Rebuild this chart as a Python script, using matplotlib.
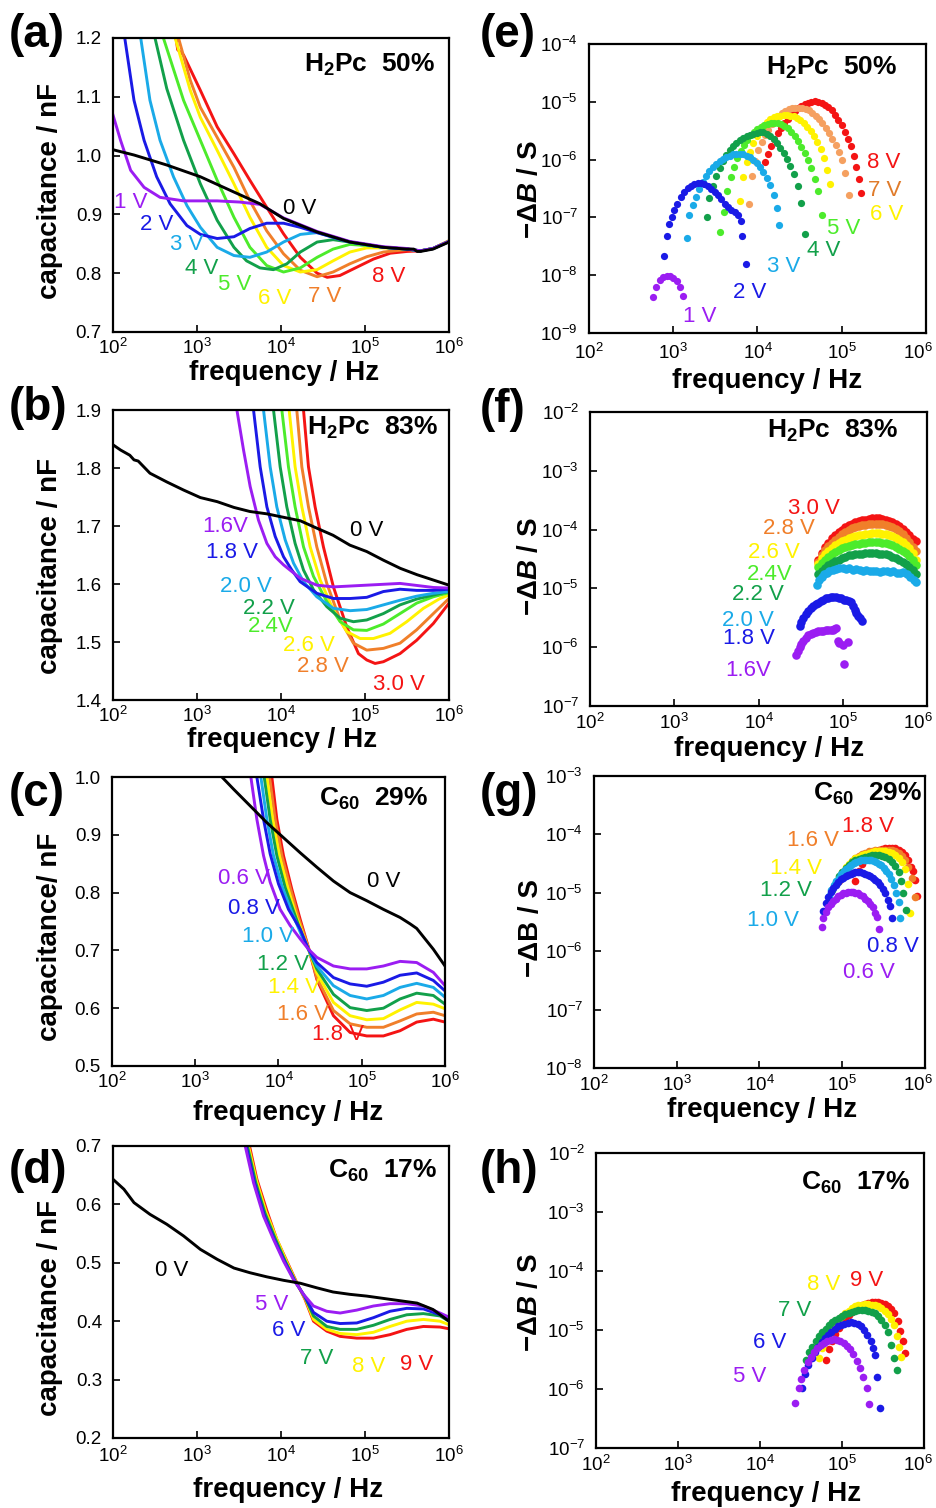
import numpy as np
import matplotlib
matplotlib.use("Agg")
import matplotlib.pyplot as plt
from matplotlib import ticker
from matplotlib.transforms import ScaledTranslation

plt.rcParams['font.family'] = ['Liberation Sans', 'DejaVu Sans']
plt.rcParams['mathtext.fontset'] = 'custom'
plt.rcParams['mathtext.rm'] = 'Liberation Sans'
plt.rcParams['mathtext.it'] = 'Liberation Sans:italic'
plt.rcParams['mathtext.bf'] = 'Liberation Sans:bold'
plt.rcParams['mathtext.bfit'] = 'Liberation Sans:bold:italic'

# ---------------------------------------------------------------- colours
BLACK = '#000000'
PURPLE = '#9B1DF2'
BLUE = '#1A1AE6'
CYAN = '#1AAAE8'
DGREEN = '#12A04A'
LGREEN = '#4CEB2B'
YELLOW = '#FFF200'
ORANGE = '#F07F2A'
RED = '#F41414'
E_ORANGE_DOT = '#F5A060'
E_ORANGE_TXT = '#E07B2A'

# ================================================================ DATA
# log10(frequency / Hz) and capacitance / nF for every bias

# (a) H2Pc 50 %
a_labels = ['0 V', '1 V', '2 V', '3 V', '4 V', '5 V', '6 V', '7 V', '8 V']
a_logf = [
    [2.00, 2.25, 2.64, 3.04, 3.44, 3.75, 4.03, 4.43, 4.82, 5.22, 5.50, 5.58, 5.62, 5.66, 5.81, 6.00],
    [2.00, 2.09, 2.21, 2.37, 2.56, 2.84, 3.24, 3.51, 3.75, 4.03, 4.43, 4.82, 5.22, 5.50, 5.66, 5.81, 6.00],
    [2.10, 2.14, 2.25, 2.37, 2.52, 2.68, 2.88, 3.04, 3.24, 3.44, 3.63, 3.83, 4.03, 4.23, 4.43, 4.82, 5.22, 5.50, 5.66, 5.81, 6.00],
    [2.30, 2.33, 2.44, 2.56, 2.72, 2.88, 3.04, 3.24, 3.44, 3.63, 3.83, 4.03, 4.23, 4.43, 4.62, 4.82, 5.22, 5.50, 5.66, 5.81, 6.00],
    [2.45, 2.50, 2.64, 2.84, 3.04, 3.24, 3.44, 3.59, 3.75, 3.91, 4.07, 4.23, 4.43, 4.62, 4.82, 5.22, 5.50, 5.66, 5.81, 6.00],
    [2.55, 2.60, 2.84, 3.04, 3.24, 3.44, 3.63, 3.83, 4.03, 4.23, 4.43, 4.62, 4.82, 5.02, 5.22, 5.50, 5.66, 5.81, 6.00],
    [2.70, 2.74, 2.92, 3.04, 3.24, 3.44, 3.63, 3.83, 4.03, 4.23, 4.43, 4.62, 4.82, 5.02, 5.22, 5.50, 5.66, 5.81, 6.00],
    [2.74, 2.78, 2.92, 3.04, 3.24, 3.44, 3.63, 3.83, 4.03, 4.23, 4.43, 4.62, 4.82, 5.02, 5.22, 5.42, 5.50, 5.66, 5.81, 6.00],
    [2.73, 2.77, 2.81, 2.84, 3.04, 3.24, 3.44, 3.63, 3.83, 4.03, 4.23, 4.43, 4.55, 4.70, 4.90, 5.10, 5.30, 5.50, 5.66, 5.81, 6.00],
]
a_cap = [
    [1.010, 1.001, 0.984, 0.964, 0.938, 0.918, 0.893, 0.870, 0.853, 0.844, 0.841, 0.841, 0.837, 0.837, 0.841, 0.853],
    [1.069, 1.026, 0.975, 0.946, 0.929, 0.923, 0.923, 0.921, 0.917, 0.894, 0.871, 0.854, 0.845, 0.842, 0.838, 0.842, 0.854],
    [1.250, 1.200, 1.094, 1.026, 0.964, 0.918, 0.881, 0.866, 0.859, 0.862, 0.876, 0.885, 0.885, 0.878, 0.869, 0.853, 0.844, 0.841, 0.838, 0.842, 0.854],
    [1.250, 1.200, 1.094, 1.026, 0.964, 0.915, 0.878, 0.844, 0.830, 0.827, 0.836, 0.853, 0.866, 0.869, 0.861, 0.853, 0.844, 0.841, 0.838, 0.842, 0.854],
    [1.240, 1.200, 1.114, 1.026, 0.952, 0.890, 0.844, 0.821, 0.809, 0.806, 0.816, 0.836, 0.853, 0.857, 0.853, 0.844, 0.841, 0.838, 0.842, 0.854],
    [1.230, 1.200, 1.094, 1.026, 0.958, 0.895, 0.844, 0.813, 0.802, 0.809, 0.827, 0.841, 0.849, 0.847, 0.844, 0.841, 0.838, 0.842, 0.854],
    [1.220, 1.200, 1.111, 1.065, 1.009, 0.952, 0.895, 0.844, 0.813, 0.802, 0.806, 0.821, 0.836, 0.843, 0.843, 0.841, 0.838, 0.842, 0.855],
    [1.220, 1.200, 1.128, 1.082, 1.031, 0.980, 0.923, 0.872, 0.833, 0.805, 0.794, 0.802, 0.816, 0.828, 0.836, 0.839, 0.840, 0.838, 0.842, 0.855],
    [1.220, 1.180, 1.175, 1.171, 1.111, 1.049, 1.003, 0.958, 0.912, 0.867, 0.827, 0.800, 0.793, 0.796, 0.810, 0.824, 0.834, 0.837, 0.838, 0.842, 0.855],
]

# (b) H2Pc 83 %
b_labels = ['0 V', '1.6V', '1.8 V', '2.0 V', '2.2 V', '2.4V', '2.6 V', '2.8 V', '3.0 V']
b_logf = [
    [2.00, 2.09, 2.20, 2.25, 2.30, 2.44, 2.64, 2.84, 3.04, 3.24, 3.44, 3.63, 3.83, 4.03, 4.23, 4.43, 4.62, 4.82, 5.02, 5.22, 5.42, 5.62, 5.81, 6.00],
    [3.44, 3.475, 3.554, 3.633, 3.732, 3.832, 3.931, 4.030, 4.228, 4.426, 4.624, 5.021, 5.417, 5.814, 6.00],
    [3.64, 3.673, 3.752, 3.832, 3.931, 4.030, 4.129, 4.228, 4.426, 4.624, 4.823, 5.021, 5.219, 5.417, 5.615, 5.814, 6.00],
    [3.76, 3.792, 3.871, 3.950, 4.050, 4.149, 4.268, 4.426, 4.624, 4.823, 5.021, 5.219, 5.417, 5.615, 5.814, 6.00],
    [3.88, 3.911, 3.990, 4.069, 4.168, 4.268, 4.387, 4.545, 4.704, 4.862, 5.021, 5.219, 5.417, 5.615, 5.814, 6.00],
    [3.98, 4.010, 4.089, 4.168, 4.268, 4.387, 4.545, 4.704, 4.862, 5.021, 5.219, 5.417, 5.615, 5.814, 6.00],
    [4.07, 4.097, 4.168, 4.248, 4.347, 4.466, 4.624, 4.783, 4.942, 5.100, 5.298, 5.497, 5.695, 5.893, 6.00],
    [4.16, 4.188, 4.248, 4.327, 4.426, 4.545, 4.704, 4.862, 5.021, 5.219, 5.417, 5.615, 5.814, 6.00],
    [4.24, 4.268, 4.327, 4.406, 4.505, 4.624, 4.783, 4.922, 5.021, 5.120, 5.219, 5.417, 5.615, 5.814, 6.00],
]
b_cap = [
    [1.840, 1.831, 1.822, 1.814, 1.812, 1.791, 1.776, 1.762, 1.749, 1.742, 1.732, 1.725, 1.721, 1.715, 1.709, 1.696, 1.684, 1.667, 1.656, 1.641, 1.627, 1.616, 1.607, 1.598],
    [1.950, 1.900, 1.831, 1.768, 1.710, 1.670, 1.647, 1.633, 1.610, 1.598, 1.595, 1.598, 1.601, 1.594, 1.593],
    [1.950, 1.900, 1.802, 1.733, 1.682, 1.647, 1.624, 1.604, 1.584, 1.575, 1.575, 1.577, 1.587, 1.591, 1.589, 1.589, 1.591],
    [1.950, 1.900, 1.802, 1.733, 1.676, 1.636, 1.604, 1.578, 1.558, 1.554, 1.556, 1.564, 1.572, 1.579, 1.584, 1.587],
    [1.950, 1.900, 1.802, 1.733, 1.670, 1.624, 1.590, 1.561, 1.541, 1.535, 1.538, 1.549, 1.564, 1.574, 1.581, 1.587],
    [1.950, 1.900, 1.802, 1.733, 1.664, 1.613, 1.570, 1.535, 1.521, 1.520, 1.531, 1.549, 1.567, 1.578, 1.585],
    [1.950, 1.900, 1.802, 1.733, 1.664, 1.607, 1.555, 1.518, 1.506, 1.506, 1.515, 1.535, 1.558, 1.575, 1.581],
    [1.950, 1.900, 1.802, 1.733, 1.664, 1.601, 1.538, 1.498, 1.486, 1.489, 1.498, 1.521, 1.549, 1.575],
    [1.950, 1.900, 1.802, 1.733, 1.664, 1.595, 1.526, 1.480, 1.469, 1.463, 1.466, 1.480, 1.503, 1.532, 1.567],
]

# (c) C60 29 %
c_labels = ['0 V', '0.6 V', '0.8 V', '1.0 V', '1.2 V', '1.4 V', '1.6 V', '1.8 V']
c_logf = [
    [3.25, 3.32, 3.46, 3.66, 3.86, 4.06, 4.26, 4.46, 4.66, 4.86, 5.06, 5.26, 5.46, 5.58, 5.66, 5.86, 6.00],
    [3.64, 3.668, 3.74, 3.82, 3.90, 4.02, 4.14, 4.26, 4.36, 4.46, 4.66, 4.86, 5.06, 5.26, 5.46, 5.66, 5.86, 6.00],
    [3.71, 3.74, 3.82, 3.90, 4.00, 4.12, 4.26, 4.36, 4.46, 4.66, 4.86, 5.06, 5.26, 5.46, 5.66, 5.86, 6.00],
    [3.76, 3.788, 3.86, 3.94, 4.04, 4.16, 4.28, 4.36, 4.46, 4.66, 4.86, 5.06, 5.26, 5.46, 5.66, 5.86, 6.00],
    [3.80, 3.828, 3.90, 3.98, 4.08, 4.20, 4.30, 4.36, 4.46, 4.66, 4.86, 5.06, 5.26, 5.46, 5.66, 5.86, 6.00],
    [3.83, 3.86, 3.93, 4.01, 4.11, 4.22, 4.31, 4.36, 4.46, 4.66, 4.86, 5.06, 5.26, 5.46, 5.66, 5.86, 6.00],
    [3.86, 3.892, 3.96, 4.04, 4.14, 4.24, 4.32, 4.37, 4.46, 4.66, 4.86, 5.06, 5.26, 5.46, 5.66, 5.86, 6.00],
    [3.89, 3.92, 3.98, 4.06, 4.16, 4.26, 4.36, 4.46, 4.66, 4.86, 5.06, 5.26, 5.46, 5.66, 5.86, 6.00],
]
c_cap = [
    [1.040, 1.000, 0.979, 0.950, 0.921, 0.895, 0.869, 0.844, 0.820, 0.800, 0.786, 0.771, 0.757, 0.746, 0.738, 0.702, 0.673],
    [1.050, 1.000, 0.927, 0.864, 0.818, 0.771, 0.743, 0.720, 0.702, 0.688, 0.673, 0.668, 0.668, 0.673, 0.681, 0.679, 0.662, 0.639],
    [1.050, 1.000, 0.927, 0.867, 0.815, 0.771, 0.737, 0.702, 0.679, 0.653, 0.642, 0.638, 0.645, 0.657, 0.661, 0.648, 0.630],
    [1.050, 1.000, 0.927, 0.864, 0.812, 0.766, 0.725, 0.702, 0.673, 0.639, 0.622, 0.616, 0.622, 0.636, 0.643, 0.636, 0.619],
    [1.050, 1.000, 0.927, 0.864, 0.809, 0.760, 0.720, 0.702, 0.668, 0.624, 0.601, 0.596, 0.600, 0.616, 0.626, 0.622, 0.607],
    [1.050, 1.000, 0.927, 0.864, 0.809, 0.757, 0.722, 0.702, 0.661, 0.610, 0.587, 0.580, 0.582, 0.597, 0.610, 0.607, 0.599],
    [1.050, 1.000, 0.927, 0.864, 0.809, 0.757, 0.722, 0.700, 0.653, 0.596, 0.573, 0.567, 0.567, 0.578, 0.590, 0.593, 0.587],
    [1.050, 1.000, 0.927, 0.864, 0.806, 0.754, 0.705, 0.650, 0.587, 0.558, 0.552, 0.552, 0.561, 0.576, 0.581, 0.576],
]

# (d) C60 17 %
d_labels = ['0 V', '5 V', '6 V', '7 V', '8 V', '9 V']
d_logf = [
    [2.00, 2.13, 2.25, 2.44, 2.64, 2.84, 3.04, 3.24, 3.44, 3.63, 3.83, 4.03, 4.23, 4.43, 4.62, 4.82, 5.02, 5.22, 5.42, 5.62, 5.81, 6.00],
    [3.55, 3.574, 3.673, 3.792, 3.911, 4.030, 4.149, 4.268, 4.387, 4.545, 4.704, 4.902, 5.100, 5.298, 5.497, 5.695, 5.893, 6.00],
    [3.56, 3.586, 3.685, 3.800, 3.920, 4.040, 4.160, 4.280, 4.387, 4.545, 4.704, 4.902, 5.100, 5.298, 5.497, 5.695, 5.893, 6.00],
    [3.57, 3.600, 3.700, 3.810, 3.930, 4.050, 4.170, 4.290, 4.387, 4.545, 4.704, 4.902, 5.100, 5.298, 5.497, 5.695, 5.893, 6.00],
    [3.58, 3.613, 3.710, 3.820, 3.940, 4.060, 4.180, 4.290, 4.387, 4.545, 4.704, 4.902, 5.100, 5.298, 5.497, 5.695, 5.893, 6.00],
    [3.60, 3.625, 3.713, 3.832, 3.950, 4.069, 4.188, 4.287, 4.387, 4.545, 4.704, 4.902, 5.100, 5.298, 5.497, 5.695, 5.893, 6.00],
]
d_cap = [
    [0.643, 0.626, 0.603, 0.583, 0.566, 0.546, 0.523, 0.506, 0.491, 0.483, 0.476, 0.470, 0.465, 0.457, 0.450, 0.446, 0.443, 0.439, 0.435, 0.431, 0.420, 0.400],
    [0.730, 0.700, 0.637, 0.580, 0.540, 0.503, 0.471, 0.446, 0.426, 0.417, 0.414, 0.419, 0.426, 0.430, 0.430, 0.426, 0.414, 0.407],
    [0.730, 0.700, 0.637, 0.582, 0.540, 0.503, 0.470, 0.443, 0.415, 0.400, 0.396, 0.397, 0.406, 0.417, 0.422, 0.421, 0.411, 0.406],
    [0.730, 0.700, 0.637, 0.585, 0.542, 0.503, 0.468, 0.440, 0.409, 0.391, 0.386, 0.386, 0.393, 0.403, 0.411, 0.413, 0.409, 0.400],
    [0.730, 0.700, 0.640, 0.588, 0.544, 0.504, 0.467, 0.438, 0.403, 0.386, 0.379, 0.377, 0.381, 0.391, 0.400, 0.403, 0.400, 0.394],
    [0.730, 0.700, 0.643, 0.589, 0.540, 0.503, 0.466, 0.437, 0.400, 0.383, 0.374, 0.371, 0.371, 0.377, 0.386, 0.391, 0.390, 0.387],
]

# log10(frequency / Hz) and log10(-dB / S) for the susceptance peaks
# (e) H2Pc 50 %
e_labels = ['1 V', '2 V', '3 V', '4 V', '5 V', '6 V', '7 V', '8 V']
e_logf = [
    [2.76, 2.80, 2.84, 2.88, 2.92, 2.96, 3.00, 3.04, 3.08, 3.12],
    [2.89, 2.92, 2.95, 2.98, 3.01, 3.05, 3.09, 3.13, 3.17, 3.21, 3.25, 3.29, 3.33, 3.37, 3.41, 3.45, 3.49, 3.53, 3.57, 3.61, 3.65, 3.69, 3.73, 3.77, 3.80, 3.82, 3.86],
    [3.16, 3.19, 3.23, 3.27, 3.31, 3.35, 3.39, 3.43, 3.47, 3.51, 3.55, 3.59, 3.63, 3.67, 3.71, 3.75, 3.79, 3.83, 3.87, 3.91, 3.95, 3.99, 4.03, 4.07, 4.11, 4.15, 4.20, 4.23, 4.26],
    [3.40, 3.43, 3.47, 3.51, 3.55, 3.59, 3.63, 3.67, 3.71, 3.75, 3.79, 3.83, 3.87, 3.91, 3.95, 3.99, 4.03, 4.07, 4.11, 4.15, 4.19, 4.23, 4.27, 4.31, 4.35, 4.39, 4.43, 4.48, 4.52, 4.56],
    [3.56, 3.60, 3.64, 3.68, 3.72, 3.76, 3.80, 3.84, 3.88, 3.92, 3.96, 4.00, 4.04, 4.08, 4.12, 4.16, 4.20, 4.24, 4.28, 4.32, 4.36, 4.40, 4.44, 4.48, 4.52, 4.56, 4.60, 4.64, 4.68, 4.72, 4.76],
    [3.79, 3.83, 3.87, 3.91, 3.95, 3.99, 4.03, 4.07, 4.11, 4.15, 4.19, 4.23, 4.27, 4.31, 4.35, 4.39, 4.43, 4.47, 4.51, 4.55, 4.59, 4.63, 4.67, 4.71, 4.75, 4.79, 4.82, 4.86],
    [3.90, 3.93, 3.97, 4.01, 4.05, 4.09, 4.13, 4.17, 4.21, 4.25, 4.29, 4.33, 4.37, 4.41, 4.45, 4.49, 4.53, 4.57, 4.61, 4.65, 4.69, 4.73, 4.77, 4.81, 4.85, 4.89, 4.93, 4.97, 5.00, 5.04, 5.09],
    [4.09, 4.12, 4.16, 4.20, 4.24, 4.28, 4.32, 4.36, 4.40, 4.44, 4.48, 4.52, 4.56, 4.60, 4.64, 4.68, 4.72, 4.76, 4.80, 4.84, 4.88, 4.92, 4.96, 5.00, 5.04, 5.08, 5.11, 5.14, 5.17, 5.20, 5.23],
]
e_logB = [
    [-8.37, -8.20, -8.09, -8.03, -8.01, -8.01, -8.04, -8.10, -8.21, -8.36],
    [-7.66, -7.33, -7.11, -6.99, -6.87, -6.76, -6.65, -6.56, -6.49, -6.45, -6.42, -6.41, -6.41, -6.43, -6.46, -6.50, -6.56, -6.62, -6.69, -6.76, -6.82, -6.87, -6.90, -6.95, -7.06, -7.33, -7.81],
    [-7.35, -6.96, -6.79, -6.64, -6.50, -6.38, -6.28, -6.20, -6.13, -6.08, -6.03, -5.99, -5.95, -5.93, -5.91, -5.90, -5.90, -5.91, -5.93, -5.96, -6.00, -6.06, -6.13, -6.22, -6.32, -6.44, -6.61, -6.83, -7.13],
    [-7.00, -6.67, -6.45, -6.28, -6.14, -6.02, -5.92, -5.84, -5.77, -5.71, -5.66, -5.62, -5.59, -5.57, -5.55, -5.54, -5.53, -5.53, -5.55, -5.59, -5.65, -5.72, -5.80, -5.89, -5.99, -6.11, -6.25, -6.45, -6.75, -7.29],
    [-7.25, -6.90, -6.55, -6.30, -6.12, -5.97, -5.85, -5.75, -5.66, -5.58, -5.52, -5.47, -5.43, -5.40, -5.38, -5.37, -5.36, -5.37, -5.39, -5.42, -5.46, -5.52, -5.60, -5.68, -5.78, -5.89, -6.01, -6.15, -6.33, -6.55, -6.95],
    [-6.71, -6.30, -6.05, -5.87, -5.72, -5.60, -5.50, -5.42, -5.35, -5.30, -5.27, -5.25, -5.24, -5.23, -5.23, -5.24, -5.25, -5.28, -5.32, -5.37, -5.43, -5.51, -5.60, -5.70, -5.82, -5.97, -6.18, -6.43],
    [-6.77, -6.28, -6.02, -5.84, -5.70, -5.58, -5.48, -5.39, -5.31, -5.25, -5.20, -5.16, -5.13, -5.11, -5.10, -5.10, -5.11, -5.12, -5.15, -5.19, -5.24, -5.30, -5.37, -5.45, -5.54, -5.64, -5.75, -5.87, -6.00, -6.24, -6.62],
    [-6.05, -5.90, -5.76, -5.64, -5.54, -5.45, -5.37, -5.29, -5.22, -5.16, -5.11, -5.07, -5.04, -5.02, -5.00, -4.99, -5.00, -5.02, -5.05, -5.09, -5.15, -5.22, -5.31, -5.41, -5.52, -5.64, -5.77, -5.94, -6.13, -6.33, -6.57],
]

# (f) H2Pc 83 %
f_labels = ['1.6V', '1.8 V', '2.0 V', '2.2 V', '2.4V', '2.6 V', '2.8 V', '3.0 V']
f_sweep_hi = [4.71, 4.75, 4.79, 4.83, 4.87, 4.91, 4.95, 4.99, 5.03, 5.07, 5.11, 5.15, 5.19, 5.23, 5.27,
              5.31, 5.35, 5.39, 5.43, 5.47, 5.51, 5.55, 5.59, 5.63, 5.67, 5.71, 5.75, 5.79, 5.83, 5.87]
f_logf = [
    [4.45, 4.47, 4.49, 4.51, 4.53, 4.56, 4.59, 4.62, 4.65, 4.68, 4.71, 4.74, 4.77, 4.80, 4.83, 4.86, 4.88, 4.90, 4.92, 4.94, 4.96, 5.00, 5.02, 5.06],
    [4.49, 4.51, 4.53, 4.56, 4.59, 4.62, 4.65, 4.68, 4.71, 4.74, 4.77, 4.80, 4.83, 4.86, 4.89, 4.92, 4.95, 4.98, 5.01, 5.04, 5.07, 5.10, 5.12, 5.14, 5.16, 5.18, 5.20, 5.23],
    [4.69, 4.72, 4.75, 4.78, 4.81, 4.84, 4.88, 4.92, 4.96, 5.00, 5.04, 5.08, 5.12, 5.16, 5.20, 5.24, 5.28, 5.32, 5.36, 5.40, 5.44, 5.48, 5.52, 5.56, 5.60, 5.64, 5.68, 5.72, 5.76, 5.80, 5.84, 5.87],
    f_sweep_hi, f_sweep_hi, f_sweep_hi, f_sweep_hi, f_sweep_hi,
]
f_logB = [
    [-6.14, -6.06, -6.00, -5.95, -5.90, -5.85, -5.80, -5.77, -5.75, -5.74, -5.73, -5.72, -5.72, -5.71, -5.71, -5.70, -5.70, -5.69, -5.68, -5.89, -5.93, -5.97, -6.28, -5.92],
    [-5.64, -5.57, -5.50, -5.44, -5.38, -5.34, -5.30, -5.27, -5.24, -5.21, -5.19, -5.17, -5.16, -5.15, -5.14, -5.14, -5.16, -5.17, -5.19, -5.20, -5.21, -5.23, -5.30, -5.36, -5.42, -5.47, -5.51, -5.55],
    [-4.95, -4.86, -4.80, -4.76, -4.73, -4.71, -4.69, -4.67, -4.66, -4.66, -4.67, -4.66, -4.68, -4.67, -4.69, -4.70, -4.68, -4.70, -4.71, -4.70, -4.72, -4.71, -4.70, -4.72, -4.71, -4.73, -4.74, -4.72, -4.76, -4.80, -4.85, -4.89],
    [-4.76, -4.70, -4.65, -4.61, -4.57, -4.53, -4.51, -4.48, -4.46, -4.44, -4.43, -4.42, -4.41, -4.41, -4.40, -4.40, -4.40, -4.40, -4.41, -4.41, -4.42, -4.44, -4.46, -4.49, -4.52, -4.55, -4.59, -4.63, -4.68, -4.75],
    [-4.64, -4.57, -4.51, -4.46, -4.42, -4.38, -4.35, -4.32, -4.30, -4.28, -4.26, -4.25, -4.24, -4.23, -4.22, -4.21, -4.21, -4.21, -4.21, -4.22, -4.23, -4.25, -4.27, -4.30, -4.33, -4.36, -4.40, -4.45, -4.51, -4.60],
    [-4.58, -4.49, -4.42, -4.36, -4.31, -4.27, -4.23, -4.20, -4.17, -4.15, -4.13, -4.11, -4.10, -4.09, -4.08, -4.07, -4.06, -4.06, -4.06, -4.07, -4.08, -4.09, -4.11, -4.14, -4.17, -4.21, -4.26, -4.32, -4.40, -4.52],
    [-4.55, -4.44, -4.35, -4.28, -4.22, -4.17, -4.12, -4.08, -4.04, -4.01, -3.98, -3.96, -3.94, -3.93, -3.92, -3.91, -3.90, -3.90, -3.90, -3.91, -3.92, -3.94, -3.96, -3.99, -4.03, -4.08, -4.14, -4.21, -4.29, -4.37],
    [-4.52, -4.40, -4.30, -4.22, -4.15, -4.09, -4.04, -4.00, -3.96, -3.93, -3.90, -3.87, -3.85, -3.84, -3.83, -3.82, -3.81, -3.81, -3.81, -3.82, -3.83, -3.85, -3.87, -3.90, -3.94, -3.99, -4.04, -4.10, -4.16, -4.20],
]

# (g) C60 29 %
g_labels = ['0.6 V', '0.8 V', '1.0 V', '1.2 V', '1.4 V', '1.6 V', '1.8 V']
g_logf = [
    [4.75, 4.77, 4.80, 4.83, 4.86, 4.89, 4.92, 4.95, 4.98, 5.01, 5.04, 5.07, 5.10, 5.13, 5.16, 5.19, 5.22, 5.25, 5.28, 5.31, 5.34, 5.37, 5.40, 5.42, 5.44],
    [4.77, 4.80, 4.83, 4.86, 4.89, 4.92, 4.95, 4.98, 5.01, 5.04, 5.07, 5.10, 5.13, 5.16, 5.19, 5.22, 5.25, 5.28, 5.31, 5.34, 5.37, 5.40, 5.43, 5.46, 5.49, 5.52, 5.55, 5.58, 5.60],
    [4.84, 4.87, 4.90, 4.93, 4.96, 4.99, 5.02, 5.05, 5.08, 5.11, 5.14, 5.17, 5.20, 5.23, 5.26, 5.29, 5.32, 5.35, 5.38, 5.41, 5.44, 5.47, 5.50, 5.53, 5.56, 5.59, 5.62, 5.65, 5.68, 5.70],
    [4.88, 4.92, 4.96, 5.00, 5.04, 5.08, 5.12, 5.16, 5.20, 5.24, 5.28, 5.32, 5.36, 5.40, 5.44, 5.48, 5.52, 5.56, 5.60, 5.64, 5.68, 5.71, 5.74, 5.77],
    [4.92, 4.96, 5.00, 5.04, 5.08, 5.12, 5.16, 5.20, 5.24, 5.28, 5.32, 5.36, 5.40, 5.44, 5.48, 5.52, 5.56, 5.60, 5.64, 5.68, 5.72, 5.76, 5.79, 5.82],
    [4.96, 5.00, 5.04, 5.08, 5.12, 5.16, 5.20, 5.24, 5.28, 5.32, 5.36, 5.40, 5.44, 5.48, 5.52, 5.56, 5.60, 5.64, 5.68, 5.72, 5.76, 5.80, 5.84, 5.88],
    [5.15, 5.20, 5.24, 5.28, 5.32, 5.36, 5.40, 5.44, 5.48, 5.52, 5.56, 5.60, 5.64, 5.68, 5.72, 5.76, 5.80, 5.83, 5.86, 5.88, 5.90],
]
g_logB = [
    [-5.59, -5.43, -5.33, -5.25, -5.19, -5.14, -5.10, -5.06, -5.03, -5.01, -5.00, -4.99, -4.99, -4.99, -5.00, -5.01, -5.03, -5.06, -5.10, -5.14, -5.19, -5.25, -5.35, -5.42, -5.62],
    [-5.31, -5.17, -5.07, -4.99, -4.92, -4.86, -4.81, -4.77, -4.74, -4.71, -4.69, -4.67, -4.66, -4.65, -4.65, -4.65, -4.66, -4.67, -4.69, -4.71, -4.74, -4.78, -4.82, -4.87, -4.93, -5.00, -5.12, -5.23, -5.44],
    [-5.05, -4.95, -4.87, -4.80, -4.74, -4.68, -4.63, -4.59, -4.55, -4.52, -4.49, -4.47, -4.45, -4.44, -4.43, -4.43, -4.43, -4.44, -4.45, -4.47, -4.50, -4.53, -4.57, -4.62, -4.68, -4.76, -4.87, -5.00, -5.16, -5.43],
    [-4.95, -4.82, -4.72, -4.64, -4.57, -4.52, -4.48, -4.44, -4.42, -4.40, -4.38, -4.37, -4.36, -4.36, -4.36, -4.37, -4.39, -4.42, -4.47, -4.54, -4.65, -4.80, -5.00, -5.30],
    [-4.85, -4.73, -4.64, -4.56, -4.50, -4.45, -4.41, -4.38, -4.35, -4.33, -4.31, -4.30, -4.29, -4.29, -4.29, -4.29, -4.30, -4.32, -4.35, -4.40, -4.48, -4.60, -4.85, -5.35],
    [-4.80, -4.68, -4.59, -4.52, -4.46, -4.41, -4.37, -4.34, -4.31, -4.29, -4.28, -4.27, -4.26, -4.26, -4.26, -4.26, -4.27, -4.29, -4.32, -4.37, -4.44, -4.55, -4.75, -5.08],
    [-4.80, -4.62, -4.50, -4.42, -4.36, -4.31, -4.28, -4.26, -4.25, -4.24, -4.23, -4.23, -4.24, -4.26, -4.30, -4.36, -4.44, -4.55, -4.62, -4.78, -5.05],
]

# (h) C60 17 %
h_labels = ['5 V', '6 V', '7 V', '8 V', '9 V']
h_logf = [
    [4.43, 4.47, 4.50, 4.54, 4.58, 4.62, 4.66, 4.70, 4.74, 4.78, 4.82, 4.86, 4.90, 4.94, 4.98, 5.02, 5.06, 5.10, 5.14, 5.18, 5.22, 5.26, 5.30, 5.33],
    [4.51, 4.55, 4.59, 4.63, 4.67, 4.71, 4.75, 4.79, 4.83, 4.87, 4.91, 4.95, 4.99, 5.03, 5.07, 5.11, 5.15, 5.19, 5.23, 5.27, 5.31, 5.35, 5.38, 5.40, 5.43, 5.465],
    [4.56, 4.60, 4.64, 4.68, 4.72, 4.76, 4.80, 4.84, 4.88, 4.92, 4.96, 5.00, 5.04, 5.08, 5.12, 5.16, 5.20, 5.24, 5.28, 5.32, 5.36, 5.40, 5.44, 5.48, 5.52, 5.56, 5.60, 5.63, 5.67],
    [4.72, 4.76, 4.80, 4.84, 4.88, 4.92, 4.96, 5.00, 5.04, 5.08, 5.12, 5.16, 5.20, 5.24, 5.28, 5.32, 5.36, 5.40, 5.44, 5.48, 5.52, 5.56, 5.60, 5.64, 5.67, 5.69, 5.72],
    [4.80, 4.84, 4.88, 4.92, 4.96, 5.00, 5.04, 5.08, 5.12, 5.16, 5.20, 5.24, 5.28, 5.32, 5.36, 5.40, 5.44, 5.48, 5.52, 5.56, 5.60, 5.64, 5.68, 5.71, 5.74, 5.77],
]
h_logB = [
    [-6.24, -5.98, -5.83, -5.67, -5.55, -5.45, -5.37, -5.31, -5.26, -5.22, -5.19, -5.17, -5.16, -5.17, -5.19, -5.22, -5.27, -5.33, -5.41, -5.52, -5.65, -5.80, -5.98, -6.25],
    [-5.98, -5.75, -5.60, -5.48, -5.38, -5.29, -5.21, -5.14, -5.08, -5.03, -4.98, -4.94, -4.91, -4.89, -4.88, -4.87, -4.88, -4.90, -4.94, -5.00, -5.08, -5.19, -5.31, -5.43, -5.80, -6.33],
    [-5.50, -5.38, -5.28, -5.19, -5.11, -5.04, -4.98, -4.92, -4.87, -4.83, -4.79, -4.76, -4.73, -4.71, -4.69, -4.67, -4.66, -4.66, -4.66, -4.67, -4.69, -4.72, -4.77, -4.83, -4.92, -5.04, -5.25, -5.47, -5.68],
    [-5.47, -5.30, -5.17, -5.06, -4.97, -4.89, -4.82, -4.76, -4.71, -4.67, -4.63, -4.60, -4.58, -4.57, -4.56, -4.56, -4.57, -4.58, -4.60, -4.63, -4.67, -4.73, -4.81, -4.92, -5.10, -5.28, -5.45],
    [-5.50, -5.33, -5.18, -5.06, -4.96, -4.87, -4.80, -4.74, -4.69, -4.65, -4.61, -4.58, -4.56, -4.54, -4.53, -4.53, -4.53, -4.54, -4.56, -4.59, -4.64, -4.72, -4.85, -5.02, -5.19, -5.39],
]

# ================================================================ STYLE
a_colors = [BLACK, PURPLE, BLUE, CYAN, DGREEN, LGREEN, YELLOW, ORANGE, RED]
b_colors = [BLACK, PURPLE, BLUE, CYAN, DGREEN, LGREEN, YELLOW, ORANGE, RED]
c_colors = [BLACK, PURPLE, BLUE, CYAN, DGREEN, YELLOW, ORANGE, RED]
d_colors = [BLACK, PURPLE, BLUE, DGREEN, YELLOW, RED]
e_colors = [PURPLE, BLUE, CYAN, DGREEN, LGREEN, YELLOW, E_ORANGE_DOT, RED]
e_text_colors = [PURPLE, BLUE, CYAN, DGREEN, LGREEN, YELLOW, E_ORANGE_TXT, RED]
f_colors = [PURPLE, BLUE, CYAN, DGREEN, LGREEN, YELLOW, ORANGE, RED]
g_colors = [PURPLE, BLUE, CYAN, DGREEN, YELLOW, ORANGE, RED]
h_colors = [PURPLE, BLUE, DGREEN, YELLOW, RED]

# label anchor points in pixels (left edge, vertical centre)
a_text_xy = [(283, 209), (114, 202), (140, 224), (170, 245), (185, 269), (218, 285), (258, 298), (308, 297), (372, 277)]
b_text_xy = [(350, 530), (202, 527), (206, 552), (220, 586), (243, 608), (248, 627), (283, 646), (297, 667), (373, 685)]
c_text_xy = [(367, 881), (218, 879), (228, 909), (242, 937), (257, 964), (268, 987), (277, 1014), (312, 1035)]
d_text_xy = [(155, 1271), (255, 1305), (272, 1331), (300, 1359), (352, 1366), (400, 1364)]
e_text_xy = [(683, 316), (733, 293), (767, 266), (807, 251), (827, 228), (870, 214), (868, 191), (867, 162)]
f_text_xy = [(725, 670), (723, 639), (722, 621), (732, 595), (747, 575), (748, 552), (763, 528), (788, 508)]
g_text_xy = [(843, 972), (867, 947), (747, 920), (760, 891), (770, 868), (787, 841), (842, 827)]
h_text_xy = [(733, 1376), (753, 1342), (778, 1310), (807, 1285), (850, 1280)]

W, H = 937, 1508
fig = plt.figure(figsize=(W / 100, H / 100), dpi=100)


def add_panel(l, t, r, b):
    return fig.add_axes([l / W, 1 - b / H, (r - l) / W, (b - t) / H])


def put(x, y, s, **kw):
    fig.text(x / W, 1 - y / H, s, **kw)


DECADES = [2, 3, 4, 5, 6]


def frame(ax, xpad=4, last_shift=0):
    ax.set_xscale('log')
    ax.set_xlim(1e2, 1e6)
    ax.set_xticks([10.0 ** p for p in DECADES])
    ax.set_xticklabels([rf'$10^{{{p}}}$' for p in DECADES])
    ax.xaxis.set_minor_locator(ticker.NullLocator())
    ax.tick_params(axis='both', direction='in', length=5, width=1.2,
                   labelsize=13.5, colors='black')
    ax.tick_params(axis='x', pad=xpad)
    ax.tick_params(axis='y', pad=8)
    for sp in ax.spines.values():
        sp.set_linewidth(1.6)
    if last_shift:
        lab = ax.get_xticklabels()[-1]
        lab.set_transform(lab.get_transform()
                          + ScaledTranslation(-last_shift / 100, 0, fig.dpi_scale_trans))


def linear_y(ax, lo, hi, ticks):
    ax.set_ylim(lo, hi)
    ax.set_yticks(ticks)
    ax.set_yticklabels([f'{t:.1f}' for t in ticks])


def log_y(ax, lo, hi):
    ax.set_yscale('log')
    ax.set_ylim(10.0 ** lo, 10.0 ** hi)
    exps = list(range(lo, hi + 1))
    ax.set_yticks([10.0 ** e for e in exps])
    ax.set_yticklabels([rf'$10^{{{e}}}$' for e in exps])
    ax.yaxis.set_minor_locator(ticker.NullLocator())


def draw_lines(ax, logf, vals, colors):
    items = list(zip(logf, vals, colors))
    for k, (lf, v, c) in reversed(list(enumerate(items))):
        ax.plot(10.0 ** np.asarray(lf), v, color=c, lw=2.1,
                solid_joinstyle='round', zorder=4 if k == 0 else 2)


def draw_dots(ax, logf, logb, colors, size=27):
    for lf, lb, c in reversed(list(zip(logf, logb, colors))):
        ax.scatter(10.0 ** np.asarray(lf), 10.0 ** np.asarray(lb),
                   s=size, color=c, linewidths=0, zorder=3)


def curve_labels(labels, xy, colors):
    for s, (x, y), c in zip(labels, xy, colors):
        put(x, y, s, color=c, fontsize=16, ha='left', va='center')


LBL = dict(fontsize=20, fontweight='bold', ha='center', va='center')
LETTER = dict(fontsize=33, fontweight='bold', ha='center', va='center')
TITLE = dict(fontsize=19, fontweight='bold', ha='right', va='baseline')
BSUS = '\u2212\u0394$\\mathbfit{B}$ / S'

# ---------------------------------------------------------------- (a)
ax = add_panel(113, 38, 449, 332)
frame(ax)
linear_y(ax, 0.7, 1.2, [0.7, 0.8, 0.9, 1.0, 1.1, 1.2])
draw_lines(ax, a_logf, a_cap, a_colors)
curve_labels(a_labels, a_text_xy, a_colors)
put(435, 72, r'H$_\mathbf{2}$Pc  50%', **TITLE)
put(50, 191, 'capacitance / nF', rotation=90, **LBL)
put(284, 373, 'frequency / Hz', **LBL)
put(37, 35, '(a)', **LETTER)

# ---------------------------------------------------------------- (b)
ax = add_panel(113, 410, 449, 700)
frame(ax)
linear_y(ax, 1.4, 1.9, [1.4, 1.5, 1.6, 1.7, 1.8, 1.9])
draw_lines(ax, b_logf, b_cap, b_colors)
curve_labels(b_labels, b_text_xy, b_colors)
put(438, 435, r'H$_\mathbf{2}$Pc  83%', **TITLE)
put(50, 566, 'capacitance / nF', rotation=90, **LBL)
put(282, 740, 'frequency / Hz', **LBL)
put(38, 408, '(b)', **LETTER)

# ---------------------------------------------------------------- (c)
ax = add_panel(112, 777, 445, 1066)
frame(ax)
linear_y(ax, 0.5, 1.0, [0.5, 0.6, 0.7, 0.8, 0.9, 1.0])
draw_lines(ax, c_logf, c_cap, c_colors)
curve_labels(c_labels, c_text_xy, c_colors)
put(428, 806, r'C$_\mathbf{60}$  29%', **TITLE)
put(50, 937, 'capacitance/ nF', rotation=90, **LBL)
put(288, 1113, 'frequency / Hz', **LBL)
put(37, 794, '(c)', **LETTER)

# ---------------------------------------------------------------- (d)
ax = add_panel(113, 1146, 449, 1438)
frame(ax, xpad=6)
linear_y(ax, 0.2, 0.7, [0.2, 0.3, 0.4, 0.5, 0.6, 0.7])
draw_lines(ax, d_logf, d_cap, d_colors)
curve_labels(d_labels, d_text_xy, d_colors)
put(437, 1178, r'C$_\mathbf{60}$  17%', **TITLE)
put(50, 1308, 'capacitance / nF', rotation=90, **LBL)
put(288, 1490, 'frequency / Hz', **LBL)
put(38, 1171, '(d)', **LETTER)

# ---------------------------------------------------------------- (e)
ax = add_panel(589, 44, 926, 333)
frame(ax, xpad=7, last_shift=8)
log_y(ax, -9, -4)
draw_dots(ax, e_logf, e_logB, e_colors)
curve_labels(e_labels, e_text_xy, e_text_colors)
put(897, 75, r'H$_\mathbf{2}$Pc  50%', **TITLE)
put(530, 190, BSUS, rotation=90, **LBL)
put(767, 381, 'frequency / Hz', **LBL)
put(508, 35, '(e)', **LETTER)

# ---------------------------------------------------------------- (f)
ax = add_panel(590, 412, 927, 706)
frame(ax, xpad=5, last_shift=9)
log_y(ax, -7, -2)
draw_dots(ax, f_logf, f_logB, f_colors, size=38)
curve_labels(f_labels, f_text_xy, f_colors)
put(898, 438, r'H$_\mathbf{2}$Pc  83%', **TITLE)
put(530, 567, BSUS, rotation=90, **LBL)
put(769, 749, 'frequency / Hz', **LBL)
put(503, 410, '(f)', **LETTER)

# ---------------------------------------------------------------- (g)
ax = add_panel(594, 776, 925, 1068)
frame(ax, xpad=5, last_shift=7)
log_y(ax, -8, -3)
draw_dots(ax, g_logf, g_logB, g_colors, size=30)
curve_labels(g_labels, g_text_xy, g_colors)
put(922, 801, r'C$_\mathbf{60}$  29%', **TITLE)
put(531, 928, '\u2212\u0394B / S', rotation=90, **LBL)
put(762, 1110, 'frequency / Hz', **LBL)
put(509, 794, '(g)', **LETTER)

# ---------------------------------------------------------------- (h)
ax = add_panel(596, 1153, 924, 1448)
frame(ax, xpad=5, last_shift=6)
log_y(ax, -7, -2)
draw_dots(ax, h_logf, h_logB, h_colors, size=30)
curve_labels(h_labels, h_text_xy, h_colors)
put(910, 1190, r'C$_\mathbf{60}$  17%', **TITLE)
put(530, 1303, BSUS, rotation=90, **LBL)
put(766, 1494, 'frequency / Hz', **LBL)
put(509, 1171, '(h)', **LETTER)

fig.savefig('out.png', dpi=100)
